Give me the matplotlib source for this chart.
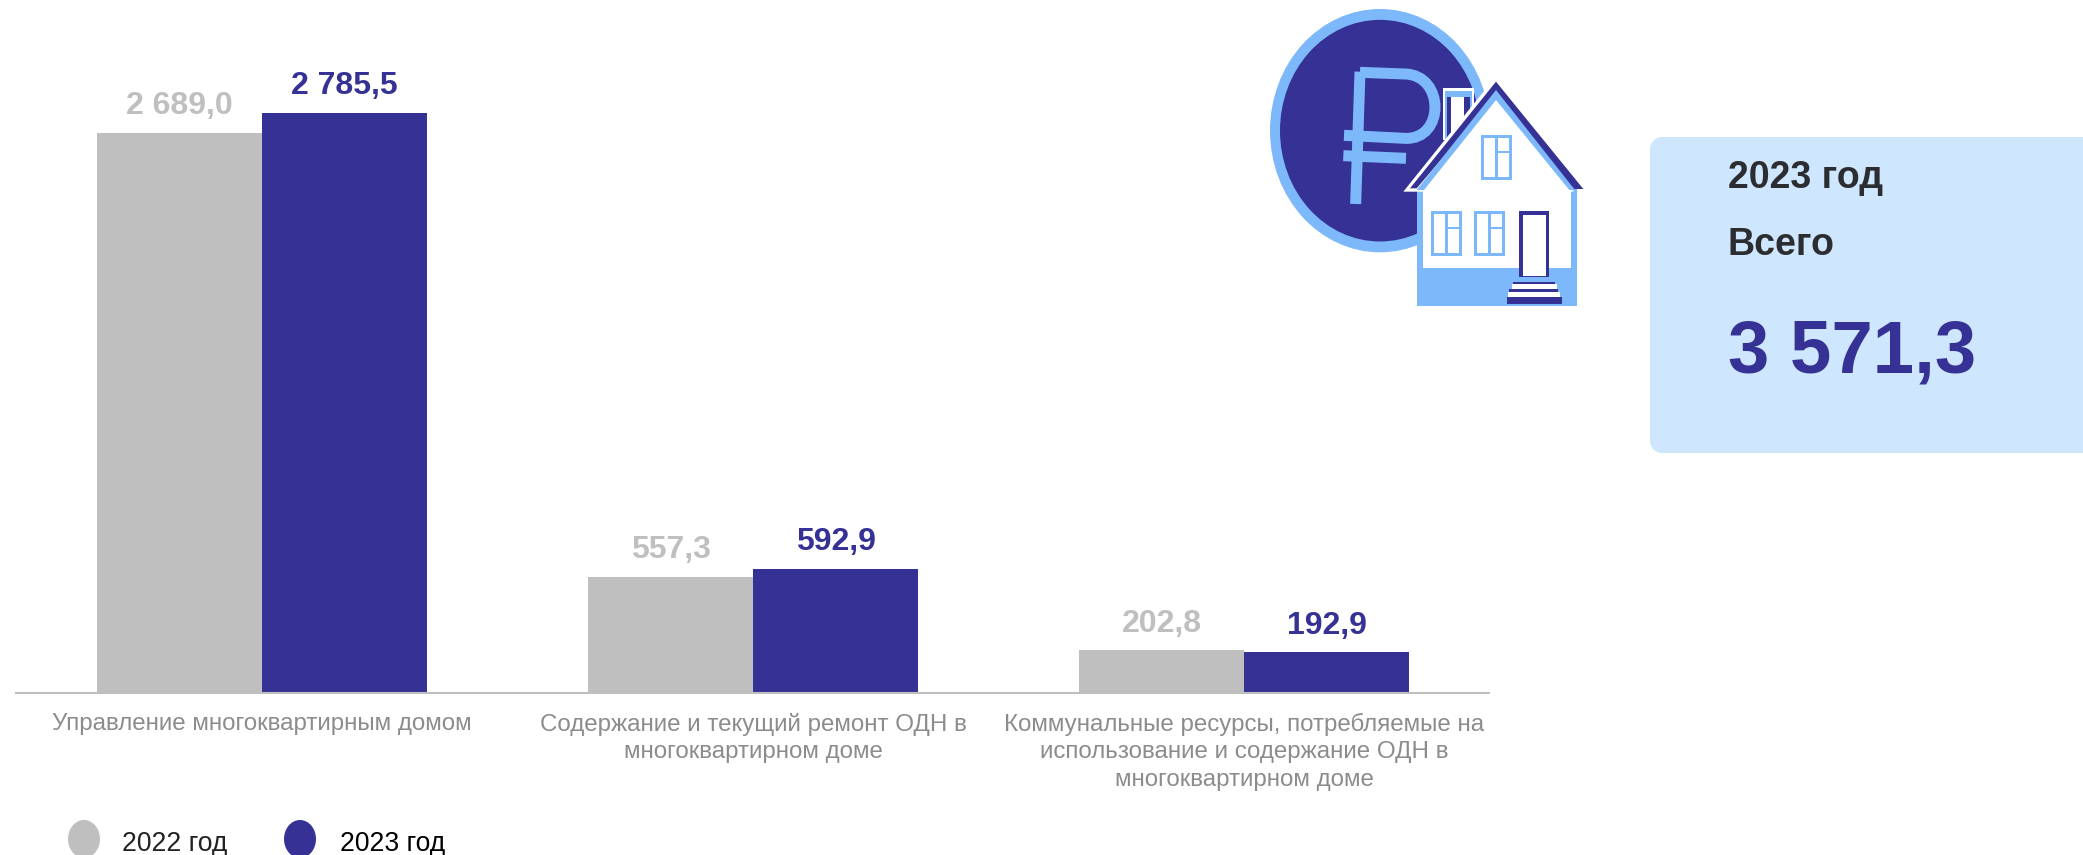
import matplotlib
matplotlib.use("Agg")
import matplotlib.pyplot as plt
from matplotlib.patches import Ellipse, Polygon, Rectangle, PathPatch
from matplotlib.path import Path
import numpy as np

plt.rcParams['font.family'] = ['Liberation Sans', 'DejaVu Sans']

categories = ["Управление многоквартирным домом",
              "Содержание и текущий ремонт ОДН в\nмногоквартирном доме",
              "Коммунальные ресурсы, потребляемые на\nиспользование и содержание ОДН в\nмногоквартирном доме"]
series_names = ["2022 год", "2023 год"]
values_2022 = [2689.0, 557.3, 202.8]
values_2023 = [2785.5, 592.9, 192.9]
labels_2022 = ["2 689,0", "557,3", "202,8"]
labels_2023 = ["2 785,5", "592,9", "192,9"]
panel_lines = ["2023 год", "Всего", "3 571,3"]

GRAY = "#BFBFBF"
BLUE = "#353195"
LIGHT = "#7DB8FB"
PANEL = "#CFE6FF"
W, H = 2083, 855

fig = plt.figure(figsize=(W/100, H/100), dpi=100, facecolor="white")
ax = fig.add_axes([16.4/W, 1-692.6/H, (1489-16.4)/W, 600/H])
x = np.arange(3)
bw = 165/491.5
ax.bar(x-bw/2, values_2022, bw, color=GRAY, label=series_names[0])
ax.bar(x+bw/2, values_2023, bw, color=BLUE, label=series_names[1])
ax.set_xlim(-0.5, 2.4985)
ax.set_ylim(0, 600/0.2082)
for i in x:
    ax.annotate(labels_2022[i], (i-bw/2, values_2022[i]), xytext=(0.2, 8.4), textcoords="offset points",
                ha="center", va="bottom", fontsize=23, fontweight="bold", color=GRAY)
    ax.annotate(labels_2023[i], (i+bw/2, values_2023[i]), xytext=(0.2, 8.4), textcoords="offset points",
                ha="center", va="bottom", fontsize=23, fontweight="bold", color=BLUE)
for s in ("top", "left", "right"):
    ax.spines[s].set_visible(False)
ax.spines["bottom"].set_color(GRAY)
ax.spines["bottom"].set_linewidth(1.5)
ax.set_yticks([])
ax.set_xticks(x)
ax.set_xticklabels(categories, fontsize=17.4, color="#8C8C8C", linespacing=1.32)
ax.tick_params(axis="x", length=0, pad=14.5)

# overlay in pixel coordinates for decorations
ov = fig.add_axes([0, 0, 1, 1], zorder=3)
ov.set_xlim(0, W); ov.set_ylim(H, 0); ov.axis("off"); ov.patch.set_alpha(0)

# legend
for cx, col, tx, name, tc in [(84, GRAY, 122, series_names[0], "#222222"), (300, BLUE, 340, series_names[1], "#000000")]:
    ov.add_patch(Ellipse((cx, 839), 32, 38, color=col, lw=0))
    ov.text(tx, 851, name, fontsize=19.1, color=tc, va="baseline", ha="left")

# panel
ov.add_patch(Rectangle((1650, 149), 12, 292, fc=PANEL, lw=0))
ov.add_patch(Rectangle((1662, 137), 421, 316, fc=PANEL, lw=0))
ov.add_patch(Ellipse((1662, 149), 24, 24, fc=PANEL, lw=0))
ov.add_patch(Ellipse((1662, 441), 24, 24, fc=PANEL, lw=0))
ov.text(1728, 188, panel_lines[0], fontsize=27, fontweight="bold", color="#2B2D30", va="baseline")
ov.text(1728, 255, panel_lines[1], fontsize=27, fontweight="bold", color="#2B2D30", va="baseline")
ov.text(1728, 372, panel_lines[2], fontsize=53.6, fontweight="bold", color=BLUE, va="baseline")

# icon: coordinates taken in 3x crop space
def P(X, Y):
    return (1240 + X/3, Y/3)
def poly(pts, c, z=4):
    ov.add_patch(Polygon([P(*p) for p in pts], closed=True, fc=c, ec="none", zorder=z))
def rect(x0, y0, x1, y1, c, z=4):
    poly([(x0, y0), (x1, y0), (x1, y1), (x0, y1)], c, z)
def seg(pts, c, lwpx, z=4):
    xs, ys = zip(*[P(*p) for p in pts])
    ov.plot(xs, ys, color=c, lw=lwpx*0.72, solid_capstyle="butt", solid_joinstyle="miter", zorder=z)

ov.add_patch(Ellipse(P(420, 392), 660/3, 730/3, fc=LIGHT, lw=0, zorder=4))
ov.add_patch(Ellipse(P(420, 392), 600/3, 665/3, fc=BLUE, lw=0, zorder=4))
# rouble sign
seg([(360, 215), (347, 612)], LIGHT, 11)
verts = [P(360, 217), P(495, 222), P(615, 225), P(615, 420), P(495, 415), P(312, 406)]
codes = [Path.MOVETO, Path.LINETO, Path.CURVE4, Path.CURVE4, Path.CURVE4, Path.LINETO]
ov.add_patch(PathPatch(Path(verts, codes), fc="none", ec=LIGHT, lw=11*0.72, zorder=4))
seg([(310, 467), (498, 475)], LIGHT, 11)
# chimney
rect(608, 265, 702, 420, "white", 5)
rect(615, 272, 695, 420, LIGHT, 5)
rect(620, 290, 690, 420, BLUE, 5)
rect(632, 292, 672, 420, "white", 5)
# house
rect(530, 560, 1010, 917, LIGHT, 5)
rect(548, 560, 992, 803, "white", 5)
poly([(768, 228), (1000, 510), (1000, 575), (490, 575)], "white", 5)
poly([(768, 245), (1030, 567), (1000, 567), (768, 285), (530, 565), (510, 565)], BLUE, 6)
poly([(768, 270), (1005, 570), (530, 570)], LIGHT, 6)
poly([(768, 300), (992, 575), (548, 575)], "white", 6)
def window(x0, y0, x1, y1):
    rect(x0, y0, x1, y1, LIGHT, 7)
    rect(x0+9, y0+9, x1-9, y1-9, "white", 7)
    mid = (x0+x1)/2
    rect(mid-5, y0+9, mid+5, y1-9, LIGHT, 7)
    ym = y0 + (y1-y0)*0.38
    rect(mid, ym-3, x1-9, ym+3, LIGHT, 7)
window(723, 405, 815, 540)
window(573, 633, 665, 768)
window(703, 633, 795, 768)
rect(838, 633, 928, 832, BLUE, 7)
rect(850, 646, 917, 827, "white", 7)
rect(820, 845, 945, 853, BLUE, 7)
rect(808, 867, 955, 877, BLUE, 7)
rect(800, 890, 965, 912, BLUE, 7)
rect(815, 853, 950, 867, "white", 7)
rect(805, 877, 960, 890, "white", 7)

fig.savefig("out.png", dpi=100)
